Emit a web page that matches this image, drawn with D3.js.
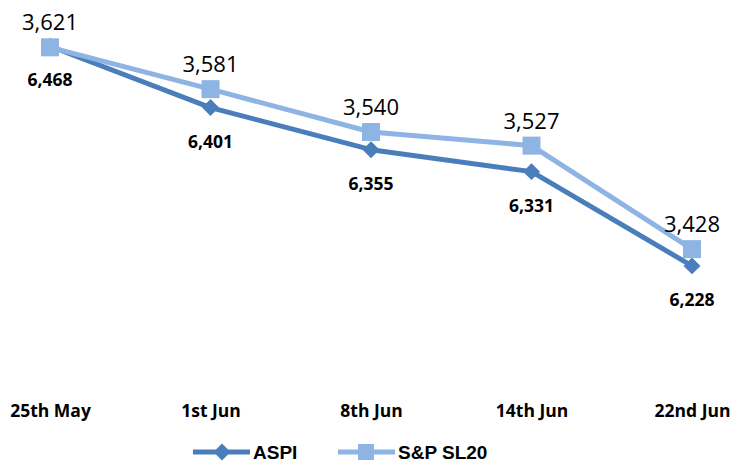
<!DOCTYPE html>
<html>
<head>
<meta charset="utf-8">
<script src="https://cdn.jsdelivr.net/npm/d3@7/dist/d3.min.js"></script>
<style>
  body { margin: 0; background: #fff; }
  text { font-family: "Open Sans", "DejaVu Sans", sans-serif; fill: #000; }
</style>
</head>
<body>
<div id="chart"></div>
<script>
var dates = ["25th May", "1st Jun", "8th Jun", "14th Jun", "22nd Jun"];
var aspi = [6468, 6401, 6355, 6331, 6228];
var sl20 = [3621, 3581, 3540, 3527, 3428];

var width = 734, height = 464;
var plotTop = 17, plotBottom = 383;

var svg = d3.select("#chart").append("svg")
    .attr("width", width)
    .attr("height", height);

var x = d3.scalePoint().domain(dates).range([50, 692]);
// two hidden value axes, like the workbook's primary / secondary axis
var yA = d3.scaleLinear().domain([6100, 6500]).range([plotBottom, plotTop]);
var yS = d3.scaleLinear().domain([3300, 3650]).range([plotBottom, plotTop]);

var cA = "#4a7ebb", cS = "#8eb4e3";

function drawSeries(vals, y, color) {
    var line = d3.line()
        .x(function (d, i) { return x(dates[i]); })
        .y(function (d) { return y(d); });
    svg.append("path")
        .datum(vals)
        .attr("fill", "none")
        .attr("stroke", color)
        .attr("stroke-width", 5)
        .attr("stroke-linejoin", "round")
        .attr("d", line);
}

drawSeries(aspi, yA, cA);
svg.selectAll(".dA").data(aspi).enter().append("rect")
    .attr("class", "dA")
    .attr("x", -6).attr("y", -6).attr("width", 12).attr("height", 12)
    .attr("fill", cA)
    .attr("transform", function (d, i) {
        return "translate(" + x(dates[i]) + "," + yA(d) + ") rotate(45)";
    });

drawSeries(sl20, yS, cS);
svg.selectAll(".sS").data(sl20).enter().append("rect")
    .attr("class", "sS")
    .attr("x", function (d, i) { return x(dates[i]) - 9; })
    .attr("y", function (d) { return yS(d) - 9; })
    .attr("width", 18).attr("height", 18)
    .attr("fill", cS);

var fmt = d3.format(",");

svg.selectAll(".lS").data(sl20).enter().append("text")
    .attr("class", "lS")
    .attr("x", function (d, i) { return x(dates[i]); })
    .attr("y", function (d) { return yS(d) - 17; })
    .attr("text-anchor", "middle")
    .style("font-size", "22px")
    .text(function (d) { return fmt(d); });

svg.selectAll(".lA").data(aspi).enter().append("text")
    .attr("class", "lA")
    .attr("x", function (d, i) { return x(dates[i]); })
    .attr("y", function (d) { return yA(d) + 40; })
    .attr("text-anchor", "middle")
    .style("font-size", "17.5px")
    .style("font-weight", "bold")
    .text(function (d) { return fmt(d); });

// category axis (no line, labels only)
var xAxis = svg.append("g")
    .attr("transform", "translate(0," + 401 + ")")
    .call(d3.axisBottom(x).tickSize(0).tickPadding(0));
xAxis.select(".domain").remove();
xAxis.selectAll("text")
    .attr("dy", "0.9em")
    .style("font-size", "17.5px")
    .style("font-weight", "bold")
    .style("font-family", "\"Open Sans\", sans-serif");

// legend
var legend = [
    { name: "ASPI", color: cA, x0: 193, shape: "diamond" },
    { name: "S&P SL20", color: cS, x0: 338, shape: "square" }
];
var lg = svg.selectAll(".lg").data(legend).enter().append("g")
    .attr("class", "lg")
    .attr("transform", function (d) { return "translate(" + d.x0 + ",452)"; });
lg.append("line")
    .attr("x1", 0).attr("x2", 57)
    .attr("stroke", function (d) { return d.color; })
    .attr("stroke-width", 5);
lg.append("rect")
    .attr("x", function (d) { return d.shape == "square" ? 20 : 23; })
    .attr("y", function (d) { return d.shape == "square" ? -8 : -6; })
    .attr("width", function (d) { return d.shape == "square" ? 16 : 12; })
    .attr("height", function (d) { return d.shape == "square" ? 16 : 12; })
    .attr("fill", function (d) { return d.color; })
    .attr("transform", function (d) { return d.shape == "diamond" ? "rotate(45,29,0)" : null; });
lg.append("text")
    .attr("x", 60)
    .attr("y", 7)
    .style("font-family", "\"Liberation Sans\", Arial, sans-serif")
    .style("font-size", "19px")
    .style("font-weight", "bold")
    .text(function (d) { return d.name; });
</script>
</body>
</html>
